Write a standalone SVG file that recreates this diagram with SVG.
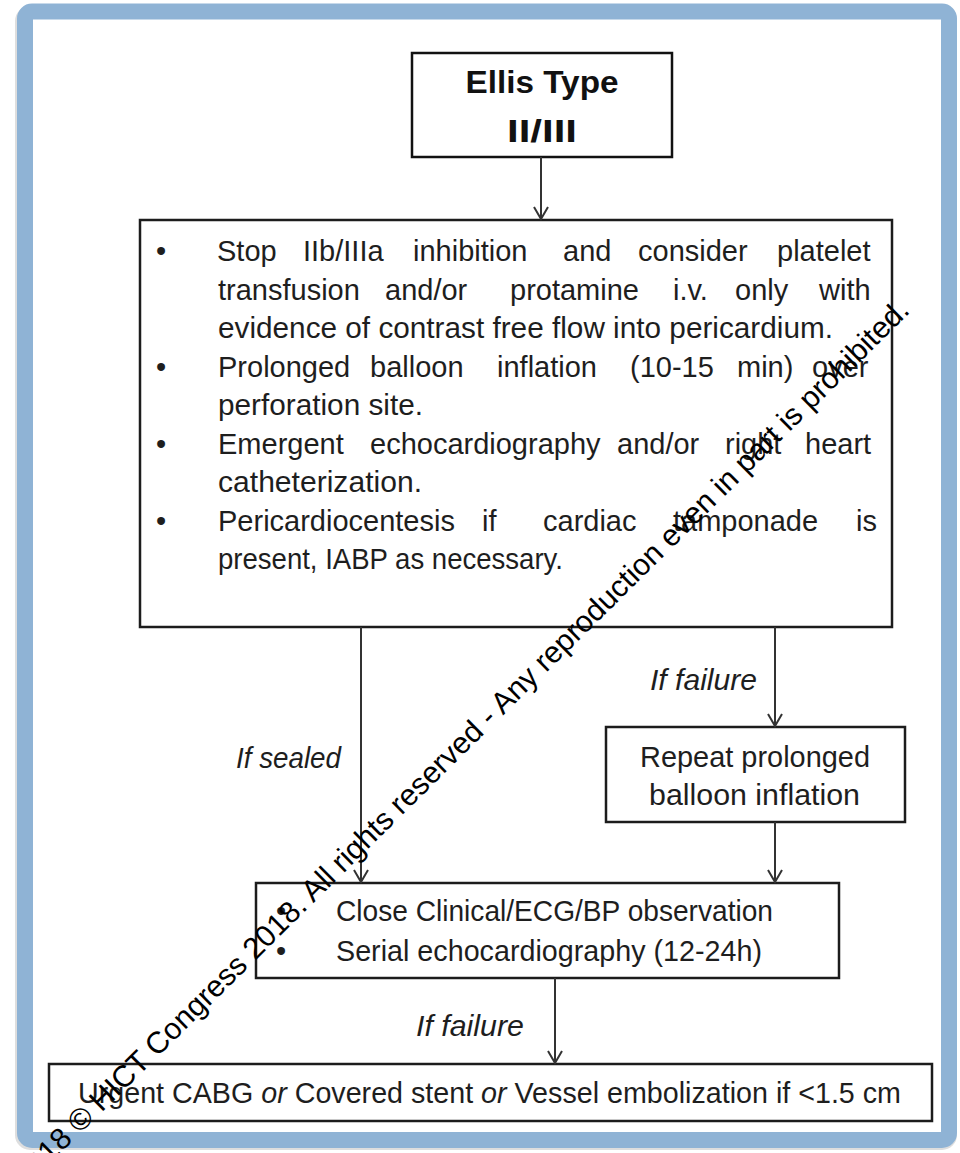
<svg xmlns="http://www.w3.org/2000/svg" width="960" height="1153" viewBox="0 0 960 1153">
  <style>
    .box { fill: #ffffff; stroke: #1c1c1c; stroke-width: 2.5; }
    .t { font-family: "Liberation Sans", Arial, sans-serif; font-size: 29px; fill: #1e1e1e; }
    .ti { font-family: "Liberation Sans", Arial, sans-serif; font-size: 29px; font-style: italic; fill: #1e1e1e; }
    .title { font-family: "Liberation Sans", Arial, sans-serif; font-size: 32px; font-weight: bold; fill: #111; text-anchor: middle; }
    .edge { fill: none; stroke: #333; stroke-width: 2; }
    .wm { font-family: "Liberation Sans", Arial, sans-serif; font-size: 30.2px; fill: #000; }
  </style>
  <defs>
    <marker id="arr" viewBox="-14 -9 16 18" refX="0" refY="0" markerWidth="16" markerHeight="18" markerUnits="userSpaceOnUse" orient="auto">
      <path d="M-12,-7 L0,0 L-12,7" fill="none" stroke="#333" stroke-width="2"/>
    </marker>
  </defs>

  <rect x="0" y="0" width="960" height="1153" fill="#ffffff"/>
  <!-- frame -->
  <rect x="23" y="14" width="926" height="1128" rx="7" fill="none" stroke="#c8c8c8" stroke-width="16" opacity="0.6"/>
  <rect x="25" y="11.5" width="924" height="1128.5" rx="7" fill="#ffffff" stroke="#8fb3d5" stroke-width="16"/>

  <g id="n-title">
    <rect class="box" x="412" y="53" width="260" height="104" stroke-width="3.5" style="stroke:#111"/>
    <text class="title" x="542" y="93" textLength="153" lengthAdjust="spacingAndGlyphs">Ellis Type</text>
    <text class="title" x="542" y="142" textLength="70" lengthAdjust="spacingAndGlyphs">II/III</text>
  </g>

  <g id="n-actions">
    <rect class="box" x="140" y="220" width="752" height="407"/>
    <text class="t" x="156" y="261">•</text>
    <text class="t" x="156" y="376.5">•</text>
    <text class="t" x="156" y="453.5">•</text>
    <text class="t" x="156" y="530.5">•</text>
    <text class="t" y="261"><tspan x="217">Stop</tspan><tspan x="303">IIb/IIIa</tspan><tspan x="413">inhibition</tspan><tspan x="563">and</tspan><tspan x="638">consider</tspan><tspan x="777">platelet</tspan></text>
    <text class="t" y="299.5"><tspan x="218">transfusion</tspan><tspan x="385">and/or</tspan><tspan x="510">protamine</tspan><tspan x="673">i.v.</tspan><tspan x="735">only</tspan><tspan x="819">with</tspan></text>
    <text class="t" x="218" y="338" textLength="615" lengthAdjust="spacingAndGlyphs">evidence of contrast free flow into pericardium.</text>
    <text class="t" y="376.5"><tspan x="218">Prolonged</tspan><tspan x="370">balloon</tspan><tspan x="497">inflation</tspan><tspan x="630">(10-15</tspan><tspan x="737">min)</tspan><tspan x="812">over</tspan></text>
    <text class="t" x="218" y="415" textLength="205" lengthAdjust="spacingAndGlyphs">perforation site.</text>
    <text class="t" y="453.5"><tspan x="218">Emergent</tspan><tspan x="370">echocardiography</tspan><tspan x="617">and/or</tspan><tspan x="725">right</tspan><tspan x="805">heart</tspan></text>
    <text class="t" x="218" y="492" textLength="204" lengthAdjust="spacingAndGlyphs">catheterization.</text>
    <text class="t" y="530.5"><tspan x="218">Pericardiocentesis</tspan><tspan x="482">if</tspan><tspan x="543">cardiac</tspan><tspan x="673">tamponade</tspan><tspan x="856">is</tspan></text>
    <text class="t" x="218" y="569" textLength="345" lengthAdjust="spacingAndGlyphs">present, IABP as necessary.</text>
  </g>

  <g id="n-repeat">
    <rect class="box" x="606" y="727" width="299" height="95"/>
    <text class="t" x="640" y="767" textLength="230" lengthAdjust="spacingAndGlyphs">Repeat prolonged</text>
    <text class="t" x="649" y="805" textLength="211" lengthAdjust="spacingAndGlyphs">balloon inflation</text>
  </g>

  <g id="n-observe">
    <rect class="box" x="256" y="883" width="583" height="95"/>
    <text class="t" x="276" y="921">•</text>
    <text class="t" x="276" y="961">•</text>
    <text class="t" x="336" y="921" textLength="437" lengthAdjust="spacingAndGlyphs">Close Clinical/ECG/BP observation</text>
    <text class="t" x="336" y="961" textLength="426" lengthAdjust="spacingAndGlyphs">Serial echocardiography (12-24h)</text>
  </g>

  <g id="n-urgent">
    <rect class="box" x="49" y="1064" width="883" height="57"/>
    <text class="t" x="78" y="1103" textLength="823" lengthAdjust="spacingAndGlyphs">Urgent CABG <tspan font-style="italic">or</tspan> Covered stent <tspan font-style="italic">or</tspan> Vessel embolization if &lt;1.5 cm</text>
  </g>

  <g id="connectors">
    <line class="edge" x1="541" y1="157" x2="541" y2="219" marker-end="url(#arr)"/>
    <line class="edge" x1="361" y1="627" x2="361" y2="882" marker-end="url(#arr)"/>
    <line class="edge" x1="775" y1="627" x2="775" y2="726" marker-end="url(#arr)"/>
    <line class="edge" x1="775" y1="822" x2="775" y2="882" marker-end="url(#arr)"/>
    <line class="edge" x1="555" y1="978" x2="555" y2="1063" marker-end="url(#arr)"/>
    <text class="ti" x="650" y="690" textLength="107" lengthAdjust="spacingAndGlyphs">If failure</text>
    <text class="ti" x="236" y="768" textLength="105" lengthAdjust="spacingAndGlyphs">If sealed</text>
    <text class="ti" x="416" y="1036" textLength="108" lengthAdjust="spacingAndGlyphs">If failure</text>
  </g>

  <g id="watermark">
    <text class="wm" x="26" y="1187.5" transform="rotate(-44.7 26 1187.5)">2018 © HICT Congress 2018. All rights reserved - Any reproduction even in part is prohibited.</text>
  </g>
</svg>
